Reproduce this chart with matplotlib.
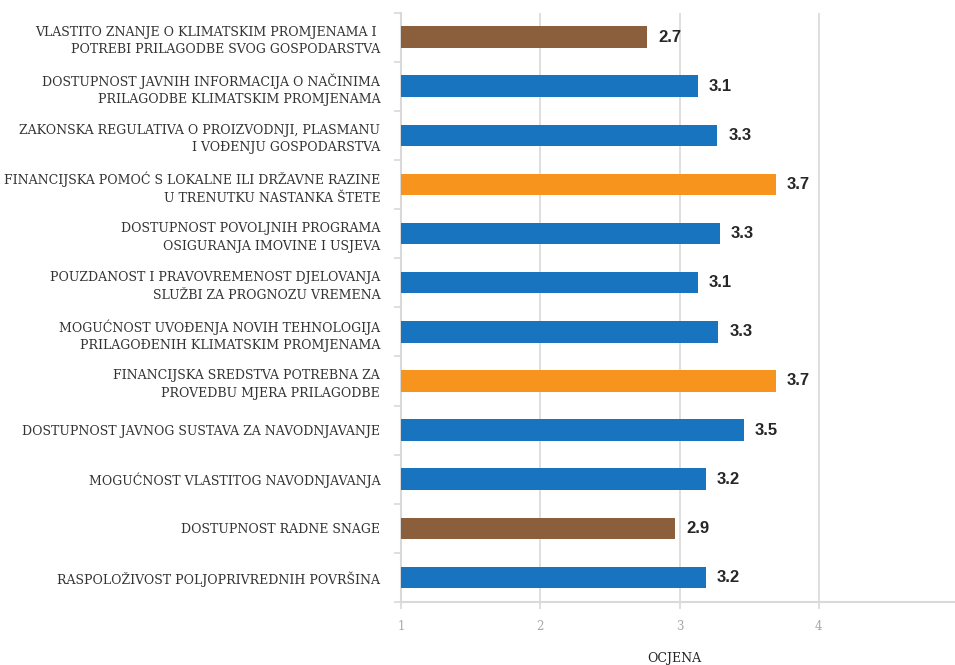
import matplotlib
matplotlib.use("Agg")
import matplotlib.pyplot as plt
import numpy as np

# data (top to bottom as shown)
categories = [
    "VLASTITO ZNANJE O KLIMATSKIM PROMJENAMA I \nPOTREBI PRILAGODBE SVOG GOSPODARSTVA",
    "DOSTUPNOST JAVNIH INFORMACIJA O NAČINIMA\nPRILAGODBE KLIMATSKIM PROMJENAMA",
    "ZAKONSKA REGULATIVA O PROIZVODNJI, PLASMANU\nI VOĐENJU GOSPODARSTVA",
    "FINANCIJSKA POMOĆ S LOKALNE ILI DRŽAVNE RAZINE\nU TRENUTKU NASTANKA ŠTETE",
    "DOSTUPNOST POVOLJNIH PROGRAMA\nOSIGURANJA IMOVINE I USJEVA",
    "POUZDANOST I PRAVOVREMENOST DJELOVANJA\nSLUŽBI ZA PROGNOZU VREMENA",
    "MOGUĆNOST UVOĐENJA NOVIH TEHNOLOGIJA\nPRILAGOĐENIH KLIMATSKIM PROMJENAMA",
    "FINANCIJSKA SREDSTVA POTREBNA ZA\nPROVEDBU MJERA PRILAGODBE",
    "DOSTUPNOST JAVNOG SUSTAVA ZA NAVODNJAVANJE",
    "MOGUĆNOST VLASTITOG NAVODNJAVANJA",
    "DOSTUPNOST RADNE SNAGE",
    "RASPOLOŽIVOST POLJOPRIVREDNIH POVRŠINA",
]
values = [2.77, 3.13, 3.27, 3.69, 3.29, 3.13, 3.28, 3.69, 3.46, 3.19, 2.97, 3.19]
value_labels = ["2.7", "3.1", "3.3", "3.7", "3.3", "3.1", "3.3", "3.7", "3.5", "3.2", "2.9", "3.2"]
groups = ["low", "mid", "mid", "high", "mid", "mid", "mid", "high", "mid", "mid", "low", "mid"]
x_ticks = [1, 2, 3, 4, 5]

palette = {"low": "#8B5E3C", "mid": "#1874BE", "high": "#F7941D"}

fig = plt.figure(figsize=(9.55, 6.65), dpi=100)
ax = fig.add_axes([401 / 955, 1 - 602 / 665, (958 - 401) / 955, (602 - 12.5) / 665])

y = np.arange(len(categories))
ax.barh(y, np.array(values) - 1, left=1, height=0.44,
        color=[palette[g] for g in groups], zorder=3)

for yi, v, lab in zip(y, values, value_labels):
    ax.annotate(lab, (v, yi), xytext=(8, 0), textcoords="offset points",
                ha="left", va="center", fontsize=12, fontweight="bold",
                family="Liberation Sans", color="#262626")

ax.set_ylim(len(categories) - 0.5, -0.5)
ax.set_xlim(1, 5)
ax.set_yticks(y)
ax.set_yticklabels(categories, family="DejaVu Serif", fontsize=9,
                   color="#333333", linespacing=1.45)
ax.set_yticks(np.arange(len(categories) + 1) - 0.5, minor=True)
ax.tick_params(axis="y", which="major", length=0, pad=15)
ax.tick_params(axis="y", which="minor", length=5, width=1.2, color="#d9d9d9")

ax.set_xticks(x_ticks)
ax.set_xticklabels([str(t) for t in x_ticks], family="DejaVu Serif",
                   fontsize=8.5, color="#a6a6a6")
ax.tick_params(axis="x", length=5, width=1.2, color="#d9d9d9", pad=8)
ax.grid(axis="x", color="#d9d9d9", linewidth=1.2, zorder=0)
ax.set_axisbelow(True)

for s in ["top", "right"]:
    ax.spines[s].set_visible(False)
for s in ["left", "bottom"]:
    ax.spines[s].set_color("#d9d9d9")
    ax.spines[s].set_linewidth(1.5)

ax.set_xlabel("OCJENA", family="DejaVu Serif", fontsize=9,
              color="#262626")
ax.xaxis.set_label_coords(0.49, -0.085)

fig.savefig("out.png", dpi=100)
